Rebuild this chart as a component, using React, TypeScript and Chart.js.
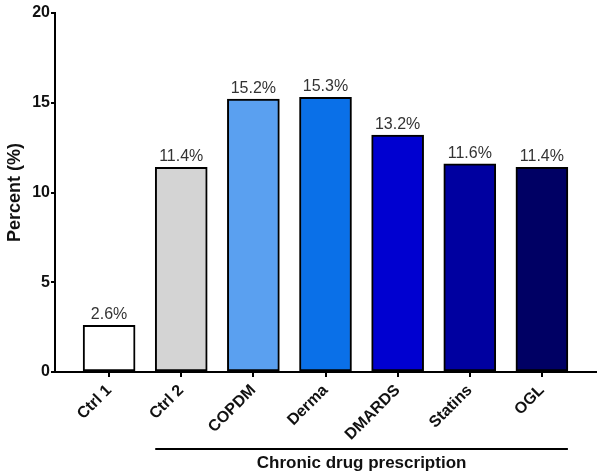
import { useEffect, useRef } from 'react';
import { Chart, registerables } from 'chart.js';

Chart.register(...registerables);

const categories = ['Ctrl 1', 'Ctrl 2', 'COPDM', 'Derma', 'DMARDS', 'Statins', 'OGL'];
const percents = [2.6, 11.4, 15.2, 15.3, 13.2, 11.6, 11.4];
const barColors = ['#ffffff', '#d4d4d4', '#5aa0f0', '#0a70e8', '#0000d0', '#0000a0', '#000064'];
const yTicks = [0, 5, 10, 15, 20];
const yTitle = 'Percent (%)';
const groupLabel = 'Chronic drug prescription';
const groupFirstIndex = 1;
const groupLastIndex = 6;

const FONT = '"Liberation Sans", Arial, sans-serif';

const valueLabels = {
  id: 'valueLabels',
  afterDatasetsDraw(chart: any) {
    const ctx = chart.ctx;
    const meta = chart.getDatasetMeta(0);
    ctx.save();
    ctx.font = `16px ${FONT}`;
    ctx.fillStyle = '#333333';
    ctx.textAlign = 'center';
    ctx.textBaseline = 'alphabetic';
    meta.data.forEach((bar: any, i: number) => {
      ctx.fillText(percents[i].toFixed(1) + '%', bar.x, bar.y - 6);
    });
    ctx.restore();
  },
};

const groupBracket = {
  id: 'groupBracket',
  afterDraw(chart: any) {
    const ctx = chart.ctx;
    const meta = chart.getDatasetMeta(0);
    const first = meta.data[groupFirstIndex];
    const last = meta.data[groupLastIndex];
    const x1 = first.x - first.width / 2;
    const x2 = last.x + last.width / 2;
    const y = chart.chartArea.bottom + 77;
    ctx.save();
    ctx.strokeStyle = '#000';
    ctx.lineWidth = 2;
    ctx.beginPath();
    ctx.moveTo(x1, y);
    ctx.lineTo(x2, y);
    ctx.stroke();
    ctx.font = `bold 17px ${FONT}`;
    ctx.fillStyle = '#111';
    ctx.textAlign = 'center';
    ctx.textBaseline = 'middle';
    ctx.fillText(groupLabel, (x1 + x2) / 2, y + 14);
    ctx.restore();
  },
};

export default function App() {
  const ref = useRef<HTMLCanvasElement | null>(null);
  useEffect(() => {
    if (!ref.current) return;
    const chart = new Chart(ref.current, {
      type: 'bar',
      data: {
        datasets: [
          {
            data: percents.map((v, i) => ({ x: i, y: v })),
            backgroundColor: barColors,
            borderColor: '#000',
            borderWidth: 2,
            borderSkipped: false,
            barThickness: 52,
          } as any,
        ],
      },
      options: {
        animation: false,
        responsive: false,
        layout: { padding: { top: 13, right: 5, left: 0, bottom: 0 } },
        plugins: { legend: { display: false }, tooltip: { enabled: false } },
        scales: {
          x: {
            type: 'linear',
            offset: false,
            min: -0.75,
            max: categories.length - 0.25,
            afterBuildTicks: (s: any) => {
              s.ticks = categories.map((_, i) => ({ value: i }));
            },
            afterFit: (s: any) => {
              s.height = 104;
            },
            ticks: {
              autoSkip: false,
              maxRotation: 45,
              minRotation: 45,
              padding: 4,
              color: '#111',
              font: { family: FONT, size: 16, weight: 'bold' },
              callback: (v: any) => categories[v as number] ?? '',
            },
            grid: { offset: false, drawOnChartArea: false, drawTicks: true, tickLength: 5, color: '#000', lineWidth: 2 },
            border: { display: true, color: '#000', width: 2 },
          },
          y: {
            min: 0,
            max: 20,
            afterBuildTicks: (s: any) => {
              s.ticks = yTicks.map((v) => ({ value: v }));
            },
            afterFit: (s: any) => {
              s.width = 55;
            },
            ticks: {
              padding: 1,
              color: '#111',
              font: { family: FONT, size: 16, weight: 'bold' },
            },
            grid: { drawOnChartArea: false, drawTicks: true, tickLength: 4, color: '#000', lineWidth: 2 },
            border: { display: true, color: '#000', width: 2 },
            title: {
              display: true,
              text: yTitle,
              color: '#111',
              font: { family: FONT, size: 18, weight: 'bold' },
              padding: { top: 4, bottom: 0 },
            },
          },
        },
      } as any,
      plugins: [valueLabels, groupBracket],
    });
    return () => chart.destroy();
  }, []);
  return (
    <div style={{ position: 'absolute', left: 0, top: 0, width: 601, height: 476, background: '#fff' }}>
      <canvas ref={ref} width={601} height={476} style={{ display: 'block' }} />
    </div>
  );
}
